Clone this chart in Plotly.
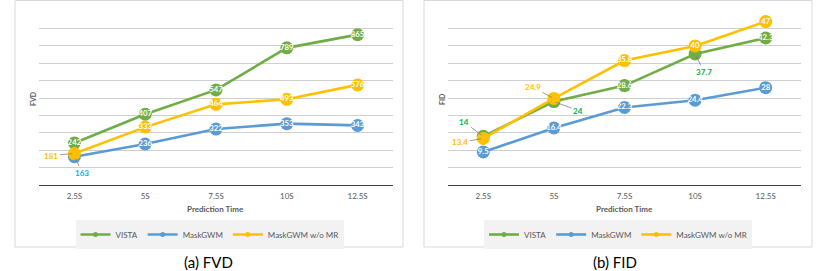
import plotly.graph_objects as go

categories = ["2.5S", "5S", "7.5S", "10S", "12.5S"]
series_names = ["VISTA", "MaskGWM", "MaskGWM w/o MR"]
colors = ["#70AD47", "#5B9BD5", "#FFC000"]

fvd_vista = [242, 407, 547, 789, 865]
fvd_maskgwm = [163, 236, 322, 353, 343]
fvd_wo_mr = [181, 333, 464, 493, 576]

fid_vista = [14, 24, 28.6, 37.7, 42.3]
fid_maskgwm = [9.5, 16.4, 22.3, 24.4, 28]
fid_wo_mr = [13.4, 24.9, 35.8, 40, 47]

W, H = 831, 271
def px(x): return x / W
def py(y): return 1 - y / H

FONT = "Lato, 'Open Sans', sans-serif"
GREY_TXT = "#595959"

fig = go.Figure()

# outside labels (series index, point index) -> (color, ax, ay)
fvd_outside = {(1, 0): ("#00B0F0", 8, 16), (2, 0): ("#FFC000", -23, 2)}
fid_outside = {(0, 0): ("#00B050", -19, -14), (2, 0): ("#FFC000", -23, 4),
               (2, 1): ("#FFC000", -21, -11), (0, 1): ("#00B050", 24, 9),
               (0, 3): ("#00B050", 9, 18)}

def fmt(v):
    return str(int(v)) if float(v).is_integer() else str(v)

panels = [
    ("x", "y", [fvd_vista, fvd_maskgwm, fvd_wo_mr], fvd_outside),
    ("x2", "y2", [fid_vista, fid_maskgwm, fid_wo_mr], fid_outside),
]

annotations = []
for xa, ya, data, outside in panels:
    for si, (name, col, vals) in enumerate(zip(series_names, colors, data)):
        texts = ["" if (si, i) in outside else fmt(v) for i, v in enumerate(vals)]
        fig.add_trace(go.Scatter(
            x=categories, y=vals, mode="lines+markers+text", name=name,
            xaxis=xa, yaxis=ya, showlegend=False,
            line=dict(color=col, width=2.6),
            marker=dict(size=13, color=col),
            text=texts, textposition="middle center",
            textfont=dict(color="white", size=7.8, family=FONT, weight="bold"),
            cliponaxis=False, hoverinfo="skip"))
        for i, v in enumerate(vals):
            if (si, i) in outside:
                c, ax, ay = outside[(si, i)]
                annotations.append(dict(
                    x=categories[i], y=v, xref=xa, yref=ya, text=fmt(v),
                    showarrow=True, arrowhead=0, arrowwidth=0.8, arrowcolor="#808080",
                    ax=ax, ay=ay, standoff=2,
                    font=dict(color=c, size=8, family=FONT, weight="bold")))

# legend-only traces
for leg in ["legend", "legend2"]:
    for name, col in zip(series_names, colors):
        fig.add_trace(go.Scatter(
            x=[None], y=[None], mode="lines+markers", name=name, legend=leg,
            xaxis="x" if leg == "legend" else "x2", yaxis="y" if leg == "legend" else "y2",
            line=dict(color=col, width=2.6), marker=dict(size=5, color=col),
            showlegend=True))

ydom = [py(185), py(11)]
axis_common = dict(showgrid=False, showline=True, linecolor="#404040", linewidth=1.3,
                   tickfont=dict(size=8, color=GREY_TXT, family=FONT),
                   ticks="outside", ticklen=3, tickcolor="rgba(0,0,0,0)",
                   range=[-0.5, 4.5], type="category", fixedrange=True, automargin=False)
yaxis_common = dict(showgrid=True, gridcolor="#cfcfcf", gridwidth=1, showticklabels=False,
                    zeroline=False, showline=False, fixedrange=True, domain=ydom,
                    automargin=False)

leg_common = dict(orientation="h", yanchor="middle", y=py(234.5), xanchor="center",
                  bgcolor="#f2f2f2", font=dict(size=8, color=GREY_TXT, family=FONT),
                  itemwidth=30, tracegroupgap=0)

fig.update_layout(
    width=W, height=H, autosize=False,
    margin=dict(l=0, r=0, t=0, b=0, autoexpand=False),
    paper_bgcolor="white", plot_bgcolor="white",
    xaxis=dict(domain=[px(39), px(393)], anchor="y", **axis_common),
    yaxis=dict(range=[0, 1001], dtick=100, anchor="x", **yaxis_common),
    xaxis2=dict(domain=[px(448), px(801)], anchor="y2", **axis_common),
    yaxis2=dict(range=[0, 50.05], dtick=5, anchor="x2", **yaxis_common),
    legend=dict(x=px(209.5), **leg_common),
    legend2=dict(x=px(618), **leg_common),
    shapes=[
        dict(type="rect", xref="paper", yref="paper", x0=px(15), x1=px(403), y0=py(247), y1=py(0.5),
             line=dict(color="#d9d9d9", width=1)),
        dict(type="rect", xref="paper", yref="paper", x0=px(424), x1=px(812), y0=py(247), y1=py(0.5),
             line=dict(color="#d9d9d9", width=1)),
    ],
)

def paper_text(x, y, text, size, color, bold=False, angle=0):
    return dict(x=px(x), y=py(y), xref="paper", yref="paper", text=text, textangle=angle,
                showarrow=False, xanchor="center", yanchor="middle",
                font=dict(size=size, color=color, family=FONT, weight="bold" if bold else "normal"))

annotations += [
    paper_text(33, 99, "FVD", 7, GREY_TXT, True, -90),
    paper_text(442, 99, "FID", 7, GREY_TXT, True, -90),
    paper_text(216, 209, "Prediction Time", 8, GREY_TXT, True),
    paper_text(624, 209, "Prediction Time", 8, GREY_TXT, True),
    paper_text(208, 262, "(a) FVD", 15, "black"),
    paper_text(615, 262, "(b) FID", 15, "black"),
]
fig.update_layout(annotations=annotations)

fig.write_html("out.html", config={"displayModeBar": False},
               post_script="document.body.style.margin='0';document.body.style.overflow='hidden';")
